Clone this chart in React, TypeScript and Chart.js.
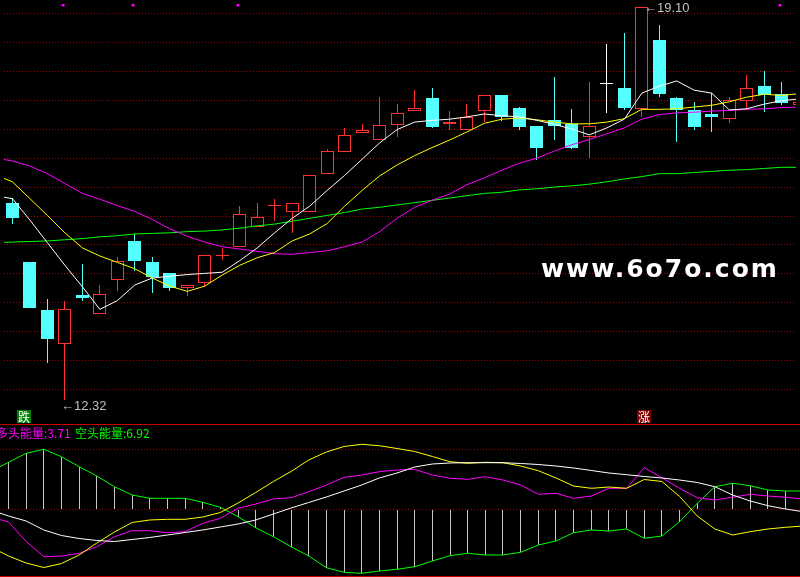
import React, { useEffect, useRef } from 'react';
import { Chart, registerables } from 'chart.js';

Chart.register(...registerables);

// ---------------- data: upper (price) panel ----------------
const opens = [15.72, 14.70, 13.87, 13.29, 14.14, 13.81, 14.40, 15.07, 14.70, 14.51, 14.25, 14.35, 14.81, 14.96, 15.31, 15.67, 15.57, 15.57, 16.23, 16.60, 16.94, 16.81, 17.07, 17.32, 17.53, 17.08, 16.99, 17.31, 17.59, 17.36, 17.06, 17.15, 17.09, 16.86, 17.77, 17.70, 17.34, 18.53, 17.53, 17.33, 17.26, 17.18, 17.48, 17.75, 17.60, 17.41];
const highs = [15.81, 14.70, 14.06, 14.04, 14.68, 14.31, 14.79, 15.19, 14.80, 14.51, 14.31, 14.83, 14.95, 15.67, 15.72, 15.80, 15.73, 16.20, 16.65, 17.02, 17.09, 17.55, 17.43, 17.68, 17.70, 17.31, 17.43, 17.59, 17.59, 17.38, 17.06, 17.89, 17.34, 17.82, 18.46, 18.65, 19.10, 18.80, 17.55, 17.46, 17.62, 17.55, 17.94, 18.00, 17.81, 17.46];
const lows = [15.37, 13.91, 12.96, 12.32, 14.03, 13.81, 14.21, 14.55, 14.17, 14.20, 14.12, 14.28, 14.74, 14.96, 15.31, 15.42, 15.20, 15.57, 16.23, 16.60, 16.93, 16.81, 16.87, 17.32, 17.01, 16.99, 16.99, 17.12, 17.14, 16.98, 16.46, 16.81, 16.65, 16.50, 17.28, 17.33, 17.21, 17.55, 16.77, 16.98, 16.95, 17.11, 17.33, 17.30, 17.41, 17.41];
const closes = [15.47, 13.91, 13.38, 13.89, 14.08, 14.15, 14.73, 14.72, 14.45, 14.26, 14.31, 14.83, 14.83, 15.53, 15.49, 15.69, 15.73, 16.20, 16.62, 16.89, 16.99, 17.07, 17.27, 17.37, 17.04, 17.12, 17.21, 17.59, 17.21, 17.04, 16.67, 17.06, 16.68, 17.06, 17.77, 17.36, 19.10, 17.60, 17.33, 17.04, 17.20, 17.50, 17.70, 17.59, 17.45, 17.46];

// moving averages, first value belongs to the bar just left of the window (index -1)
const maWhite = [15.85, 15.80, 15.43, 15.04, 14.65, 14.28, 13.89, 14.04, 14.31, 14.43, 14.46, 14.49, 14.51, 14.53, 14.73, 14.95, 15.21, 15.46, 15.67, 15.94, 16.20, 16.48, 16.76, 16.99, 17.12, 17.15, 17.17, 17.21, 17.26, 17.23, 17.21, 17.15, 17.08, 17.00, 16.90, 17.02, 17.17, 17.62, 17.74, 17.83, 17.67, 17.62, 17.33, 17.35, 17.43, 17.49, 17.52];
const maYellow = [16.21, 16.09, 15.80, 15.51, 15.21, 14.95, 14.81, 14.70, 14.59, 14.43, 14.29, 14.20, 14.29, 14.48, 14.65, 14.78, 14.87, 15.07, 15.19, 15.37, 15.67, 15.94, 16.19, 16.38, 16.54, 16.68, 16.81, 16.95, 17.10, 17.17, 17.19, 17.16, 17.12, 17.09, 17.09, 17.12, 17.18, 17.34, 17.34, 17.35, 17.38, 17.41, 17.47, 17.55, 17.60, 17.58, 17.61];
const maMagenta = [16.50, 16.45, 16.36, 16.23, 16.06, 15.89, 15.79, 15.68, 15.58, 15.44, 15.28, 15.15, 15.05, 14.97, 14.93, 14.89, 14.85, 14.84, 14.87, 14.90, 14.97, 15.05, 15.23, 15.46, 15.65, 15.77, 15.88, 16.04, 16.16, 16.29, 16.41, 16.50, 16.62, 16.73, 16.82, 16.92, 17.02, 17.17, 17.25, 17.28, 17.29, 17.31, 17.32, 17.34, 17.35, 17.37, 17.38];
const maGreen = [15.04, 15.05, 15.06, 15.07, 15.09, 15.11, 15.14, 15.16, 15.19, 15.20, 15.21, 15.23, 15.24, 15.26, 15.29, 15.33, 15.36, 15.41, 15.46, 15.51, 15.56, 15.62, 15.65, 15.69, 15.73, 15.77, 15.81, 15.85, 15.89, 15.91, 15.95, 15.97, 16.00, 16.02, 16.05, 16.09, 16.14, 16.18, 16.23, 16.23, 16.25, 16.27, 16.29, 16.30, 16.32, 16.34, 16.34];

const priceGrid = [12.5, 13.0, 13.5, 14.0, 14.5, 15.0, 15.5, 16.0, 16.5, 17.0, 17.5, 18.0, 18.5, 19.0];
const signalBars = [2.9, 6.9, 12.9, 43.9];
const signalLevel = 19.14;

// ---------------- data: lower (indicator) panel ----------------
const oscWhite = [-0.25, -2.39, -4.18, -7.39, -9.36, -10.43, -11.14, -11.5, -10.79, -10.07, -9.18, -8.29, -7.39, -6.32, -5.25, -3.82, -1.68, 0.46, 2.43, 4.39, 6.54, 8.68, 11.18, 12.96, 15.11, 16.18, 16.54, 16.64, 16.64, 16.64, 16.36, 16.0, 15.46, 14.75, 13.86, 12.96, 12.36, 11.71, 11.18, 10.46, 9.57, 8.07, 5.11, 2.96, 1.29, 0.11, -0.86];
const oscYellow = [-13.46, -16.68, -19.18, -20.79, -19.36, -16.32, -12.04, -8.11, -4.71, -3.82, -3.57, -3.57, -2.75, -1.14, 2.25, 6.0, 9.93, 13.5, 17.61, 20.46, 22.43, 23.21, 22.71, 21.71, 20.64, 18.86, 17.0, 16.43, 16.79, 16.64, 15.46, 13.79, 11.18, 8.32, 7.5, 7.96, 7.5, 10.64, 9.93, 4.6, -2.39, -7.04, -9.18, -8.0, -7.04, -6.43, -5.96];
const oscMagenta = [-2.75, -4.54, -11.5, -16.93, -16.68, -15.71, -13.36, -9.79, -7.64, -7.64, -8.36, -8.0, -5.0, -3.21, 0.36, 1.89, 3.68, 4.14, 6.29, 8.68, 11.43, 12.25, 13.43, 14.04, 14.29, 12.25, 11.07, 10.71, 11.64, 10.46, 8.68, 5.36, 5.71, 3.93, 4.75, 7.5, 7.5, 14.86, 11.29, 7.5, 4.14, 3.32, 4.29, 5.36, 4.75, 4.29, 3.68];
const oscGreen = [13.5, 16.79, 20.0, 21.43, 18.79, 15.21, 11.89, 8.07, 5.11, 3.93, 3.93, 3.93, 2.5, 0.71, -2.64, -6.57, -9.79, -13.36, -16.68, -20.86, -22.5, -22.86, -22.04, -21.43, -20.5, -18.46, -16.57, -15.71, -16.32, -16.32, -15.36, -12.75, -11.32, -8.36, -7.39, -7.75, -7.04, -10.36, -9.54, -4.43, 2.14, 8.07, 9.29, 8.43, 6.89, 6.54, 6.54];
const oscGrid = [0, 21.2];

const bullLabel = '多头能量:3.71';
const bearLabel = '空头能量:6.92';
const lowLabel = '←12.32';
const highLabel = '←19.10';

// ---------------- view constants ----------------
const X_MIN = -0.4813;
const X_MAX = 44.8187;
const P_MIN = 11.9807;
const P_MAX = 19.1574;
const O_MIN = -23.82;
const O_MAX = 30.107;

const RED = '#ff3232';
const CYAN = '#54ffff';
const GRID = '#a00000';

const candleColor = (i: number) =>
  closes[i] > opens[i] ? RED : closes[i] < opens[i] ? CYAN : '#ffffff';

const lineSet = (label: string, values: number[], color: string) => ({
  type: 'line' as const,
  label,
  data: values.map((v, i) => ({ x: i - 1, y: v })),
  borderColor: color,
  backgroundColor: color,
  borderWidth: 1,
  pointRadius: 0,
  tension: 0,
  fill: false,
  order: 0,
});

const gridAxis = (min: number, max: number, levels: number[]) => ({
  type: 'linear' as const,
  min,
  max,
  display: true,
  position: 'left' as const,
  ticks: { display: false, padding: 0 },
  grid: { color: GRID, lineWidth: 1, drawTicks: false, tickLength: 0 },
  border: { display: false, dash: [1, 2] },
  afterBuildTicks: (scale: any) => {
    scale.ticks = levels.map((v) => ({ value: v }));
  },
});

// keeps bar edges on whole pixels so 1px borders and wicks stay crisp
const snapBars = {
  id: 'snapBars',
  beforeDatasetsDraw(chart: any) {
    chart.data.datasets.forEach((_: any, di: number) => {
      const meta = chart.getDatasetMeta(di);
      if (meta.type !== 'bar') return;
      meta.data.forEach((el: any) => {
        el.x = Math.floor(el.x) + 0.5;
        el.y = Math.round(el.y);
        el.base = Math.round(el.base);
        if (Math.abs(el.y - el.base) < 1) el.base = el.y + 1;
      });
    });
  },
};

const baseOptions = (yAxis: any) => ({
  animation: false as const,
  responsive: false,
  maintainAspectRatio: false,
  events: [],
  layout: { padding: 0 },
  plugins: { legend: { display: false }, tooltip: { enabled: false }, title: { display: false } },
  scales: {
    x: { type: 'linear' as const, min: X_MIN, max: X_MAX, display: false, offset: false },
    y: yAxis,
  },
});

export default function App() {
  const upRef = useRef<HTMLCanvasElement>(null);
  const loRef = useRef<HTMLCanvasElement>(null);

  useEffect(() => {
    const charts: Chart[] = [];
    if (upRef.current) {
      const colors = opens.map((_, i) => candleColor(i));
      const fills = opens.map((_, i) => (closes[i] > opens[i] ? '#000000' : candleColor(i)));
      charts.push(
        new Chart(upRef.current, {
          type: 'bar',
          data: {
            datasets: [
              lineSet('MA5', maWhite, '#ffffff'),
              lineSet('MA10', maYellow, '#ffff00'),
              lineSet('MA20', maMagenta, '#ff00ff'),
              lineSet('MA60', maGreen, '#00ff00'),
              {
                type: 'scatter',
                label: 'signal',
                data: signalBars.map((i) => ({ x: i, y: signalLevel })),
                pointStyle: 'rect',
                pointRadius: 2.1,
                backgroundColor: '#ff00ff',
                borderWidth: 0,
                order: 0,
              } as any,
              {
                type: 'bar',
                label: 'body',
                data: opens.map((o, i) => ({ x: i, y: [o, closes[i]] })),
                backgroundColor: fills,
                borderColor: colors,
                borderWidth: 1,
                borderSkipped: false,
                barThickness: 13,
                minBarLength: 1,
                grouped: false,
                inflateAmount: 0,
                order: 1,
              } as any,
              {
                type: 'bar',
                label: 'wick',
                data: lows.map((l, i) => ({ x: i, y: [l, highs[i]] })),
                backgroundColor: colors,
                borderWidth: 0,
                barThickness: 1,
                grouped: false,
                inflateAmount: 0,
                order: 2,
              } as any,
            ],
          },
          options: baseOptions(gridAxis(P_MIN, P_MAX, priceGrid)) as any,
          plugins: [snapBars],
        })
      );
    }
    if (loRef.current) {
      charts.push(
        new Chart(loRef.current, {
          type: 'bar',
          data: {
            datasets: [
              lineSet('white', oscWhite, '#ffffff'),
              lineSet('yellow', oscYellow, '#ffff00'),
              lineSet('magenta', oscMagenta, '#ff00ff'),
              lineSet('green', oscGreen, '#00ff00'),
              {
                type: 'bar',
                label: 'hist',
                data: oscGreen.slice(1).map((v, i) => ({ x: i, y: v })),
                backgroundColor: '#c8c8c8',
                borderWidth: 0,
                barThickness: 1,
                grouped: false,
                inflateAmount: 0,
                order: 3,
              } as any,
            ],
          },
          options: baseOptions(gridAxis(O_MIN, O_MAX, oscGrid)) as any,
          plugins: [snapBars],
        })
      );
    }
    return () => charts.forEach((c) => c.destroy());
  }, []);

  const abs = (s: React.CSSProperties): React.CSSProperties => ({ position: 'absolute', whiteSpace: 'nowrap', ...s });
  const numFont = '"Liberation Sans", Arial, sans-serif';
  const cjkFont = '"Noto Sans CJK SC", sans-serif';

  return (
    <div style={{ position: 'absolute', left: 0, top: 0, width: 800, height: 577, background: '#000', overflow: 'hidden' }}>
      <canvas ref={upRef} width={800} height={424} style={{ position: 'absolute', left: 0, top: 0, width: 800, height: 424 }} />
      <div style={abs({ left: 0, top: 424, width: 800, height: 1, background: '#c80000' })} />
      <canvas ref={loRef} width={800} height={151} style={{ position: 'absolute', left: 0, top: 425, width: 800, height: 151 }} />
      <div style={abs({ left: 0, top: 576, width: 800, height: 1, background: '#c80000' })} />

      <div style={abs({ left: 541, top: 256, fontFamily: '"DejaVu Sans", sans-serif', fontWeight: 'bold', fontSize: 25, lineHeight: '25px', letterSpacing: 2, color: '#ffffff' })}>
        www.6o7o.com
      </div>

      <div style={abs({ left: 61, top: 399, fontFamily: numFont, fontSize: 13, lineHeight: '13px', color: '#c0c0c0' })}>{lowLabel}</div>
      <div style={abs({ left: 644, top: 1, fontFamily: numFont, fontSize: 13, lineHeight: '13px', color: '#c0c0c0' })}>{highLabel}</div>

      <div style={abs({ left: 17, top: 410, width: 14, height: 13, background: '#008000', color: '#fff', fontFamily: cjkFont, fontSize: 12, lineHeight: '13px', textAlign: 'center' })}>跌</div>
      <div style={abs({ left: 637, top: 410, width: 14, height: 13, background: '#800000', color: '#fff', fontFamily: cjkFont, fontSize: 12, lineHeight: '13px', textAlign: 'center' })}>涨</div>

      <div style={abs({ left: -4, top: 426.5, fontFamily: cjkFont, fontSize: 12, lineHeight: '12px', color: '#ff00ff' })}>{bullLabel}</div>
      <div style={abs({ left: 75, top: 426.5, fontFamily: cjkFont, fontSize: 12, lineHeight: '12px', color: '#00ff00' })}>{bearLabel}</div>
    </div>
  );
}
